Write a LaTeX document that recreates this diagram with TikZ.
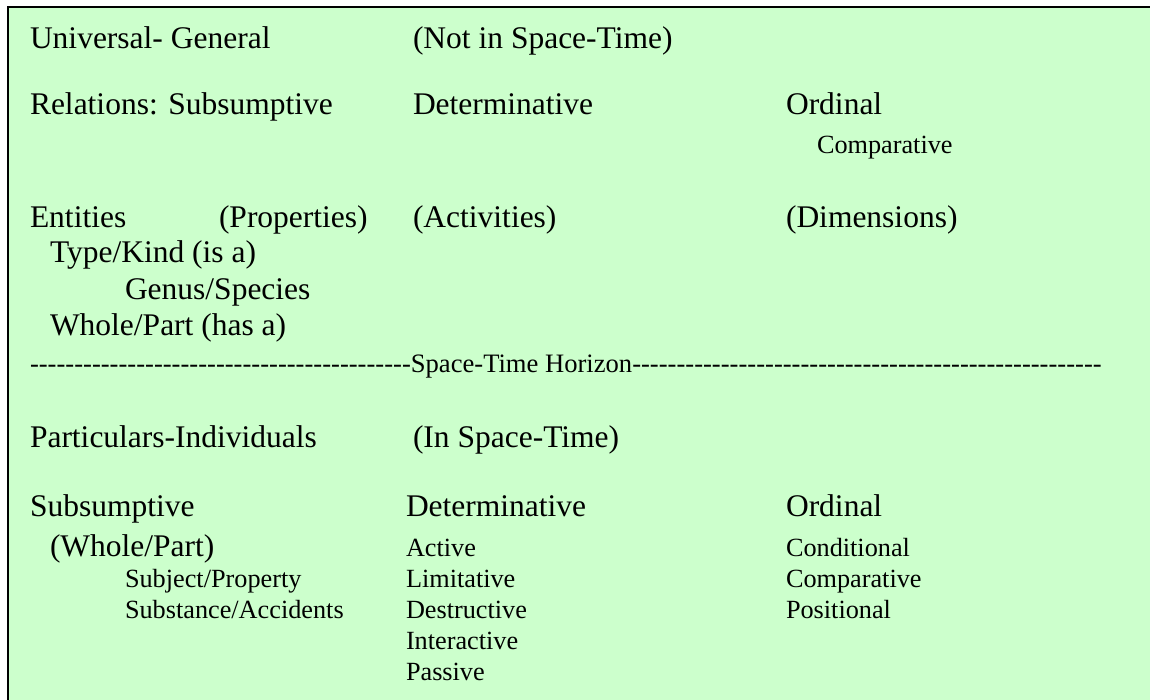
\documentclass[tikz,border=0pt]{standalone}
\usepackage{fontspec}
\setmainfont{Liberation Serif}
\usetikzlibrary{positioning}
\definecolor{pagegreen}{HTML}{CCFFCC}
\newcommand\dashrun[1]{\foreach \k in {1,...,#1}{-\kern0pt}}

\begin{document}
\begin{tikzpicture}[x=1pt,y=-1pt,inner sep=0pt,outer sep=0pt,
  big/.style={anchor=base west,font=\fontsize{31.5}{36}\selectfont},
  small/.style={anchor=base west,font=\fontsize{26.25}{30}\selectfont},
  listitem/.style={below=31pt of #1.base west,small}]
\useasboundingbox (0,0) rectangle (1150,699);
\clip (0,0) rectangle (1150,699);
\fill [pagegreen] (8,7) rectangle (1170,720);
\draw [line width=2.2pt] (8,720) -- (8,7) -- (1170,7);
% not in space-time
\draw node [big] (UG) at (30,48) {Universal- General};
\draw node [big] (NotST) at (413,48) {(Not in Space-Time)};
\draw node [big] (Rel) at (30,114) {Relations: Subsumptive};
\draw node [big] (Det) at (413,114) {Determinative};
\draw node [big] (Ord) at (786,114) {Ordinal};
\draw node [small] (Comp) at (817,153) {Comparative};
\draw node [big] (Ent) at (30,227) {Entities};
\draw node [big] (Prop) at (219,227) {(Properties)};
\draw node [big] (Actv) at (413,227) {(Activities)};
\draw node [big] (Dim) at (786,227) {(Dimensions)};
\draw node [big] (Type) at (50,262) {Type/Kind (is a)};
\draw node [big] (Genus) at (125,299) {Genus/Species};
\draw node [big] (WP) at (50,335) {Whole/Part (has a)};
% horizon
\draw node [small,font=\fontsize{26.6}{30}\selectfont] (Hor) at (30,372)
  {\dashrun{43}Space-Time Horizon\dashrun{53}};
% in space-time
\draw node [big] (Part) at (30,447) {Particulars-Individuals};
\draw node [big] (InST) at (413,447) {(In Space-Time)};
\draw node [big] (Sub2) at (30,516) {Subsumptive};
\draw node [big] (Det2) at (406,516) {Determinative};
\draw node [big] (Ord2) at (786,516) {Ordinal};
\draw node [big] (WP2) at (50,556) {(Whole/Part)};
\draw node [small] (Subj) at (125,587) {Subject/Property};
\draw node [listitem=Subj] (Subst) {Substance/Accidents};
\draw node [small] (Active) at (406,556) {Active};
\draw node [listitem=Active] (Lim) {Limitative};
\draw node [listitem=Lim] (Destr) {Destructive};
\draw node [listitem=Destr] (Inter) {Interactive};
\draw node [listitem=Inter] (Pass) {Passive};
\draw node [small] (Cond) at (786,556) {Conditional};
\draw node [listitem=Cond] (Comp2) {Comparative};
\draw node [listitem=Comp2] (Pos) {Positional};
\end{tikzpicture}
\end{document}
